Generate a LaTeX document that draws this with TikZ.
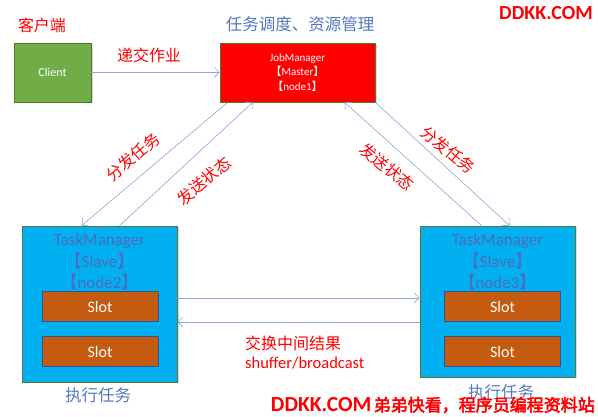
\documentclass[tikz,border=0pt]{standalone}
\usepackage{fontspec}
\setmainfont{Carlito}
\newfontfamily\cjk{Noto Sans CJK SC}
\newfontfamily\cjkbf{Noto Sans CJK SC}[FakeBold=3]
\usetikzlibrary{arrows.meta,shadows}
\usepackage{xcolor}
\definecolor{clientgreen}{HTML}{70AD47}
\definecolor{boxedge}{HTML}{4E7A32}
\definecolor{tmblue}{HTML}{00B0F0}
\definecolor{tmtext}{HTML}{4F6BBF}
\definecolor{titleblue}{HTML}{5577C0}
\definecolor{slotfill}{HTML}{C55A11}
\definecolor{slotedge}{HTML}{2F5597}
\definecolor{arrowblue}{HTML}{8AA6DA}
\newcommand{\lbr}{{\cjk 【}}
\newcommand{\rbr}{{\cjk 】}}

\begin{document}
\begin{tikzpicture}[x=1pt,y=1pt,
  mgr/.style={draw=boxedge, line width=0.8pt, inner sep=0pt,
    drop shadow={shadow xshift=1.5pt,shadow yshift=-1.5pt,opacity=0.3}},
  slot/.style={draw=slotedge, fill=slotfill, line width=1pt, inner sep=0pt,
    minimum width=116pt, minimum height=30pt, text=white, font=\fontsize{16}{18}\selectfont},
  redtxt/.style={text=red, inner sep=0pt, font=\cjk\fontsize{16}{18}\selectfont},
  bluetxt/.style={text=titleblue, inner sep=0pt, font=\cjk\fontsize{16.5}{18}\selectfont},
  tmtxt/.style={text=tmtext, inner sep=0pt, align=center, font=\fontsize{17}{21.5}\selectfont},
  arr/.style={draw=arrowblue, line width=0.6pt, -{Straight Barb[length=5pt,width=10pt]}}]
  \useasboundingbox (0,0) rectangle (598,417);

  % client and job manager
  \node[mgr, fill=clientgreen, minimum width=77pt, minimum height=59pt, text=white,
    font=\fontsize{12}{13}\selectfont] (client) at (52.5,344.5) {Client};
  \node[mgr, fill=red, minimum width=155pt, minimum height=59pt, text=white, align=center,
    font=\fontsize{11}{14.5}\selectfont] (jm) at (297.5,344.5) {JobManager\\\lbr Master\rbr\\\lbr node1\rbr};
  \node[redtxt] (clientlbl) at (42,392) {客户端};
  \node[bluetxt] (jmlbl) at (300,392.5) {任务调度、资源管理};
  \node[text=red, inner sep=0pt, font=\bfseries\fontsize{20}{22}\selectfont] (site) at (546,403.5) {DDKK.COM};

  % task managers
  \node[mgr, fill=tmblue, minimum width=155pt, minimum height=156pt] (tm2) at (99.5,113) {};
  \node[mgr, fill=tmblue, minimum width=155pt, minimum height=151pt] (tm3) at (497.5,115.5) {};
  \node[tmtxt, anchor=north] (tm2lbl) at ([yshift=-8pt]tm2.north) {TaskManager\\\lbr Slave\rbr\\\lbr node2\rbr};
  \node[tmtxt, anchor=north] (tm3lbl) at ([yshift=-8pt]tm3.north) {TaskManager\\\lbr Slave\rbr\\\lbr node3\rbr};
  \node[slot] (s21) at (100,110) {Slot};
  \node[slot] (s22) at (100,65) {Slot};
  \node[slot] (s31) at (502.5,110) {Slot};
  \node[slot] (s32) at (502.5,65) {Slot};
  \node[bluetxt] (tm2run) at (98,22) {执行任务};
  \node[bluetxt] (tm3run) at (501,25) {执行任务};

  % connectors
  \draw[arr] (client.east) -- (jm.west);
  \node[redtxt] (submit) at (149,362) {递交作业};
  \draw[arr] ([xshift=8pt]jm.south west) -- ([xshift=60pt]tm2.north west);
  \draw[arr] ([xshift=98pt]tm2.north west) -- ([xshift=33pt]jm.south west);
  \draw[arr] ([xshift=62pt]tm3.north west) -- ([xshift=125pt]jm.south west);
  \draw[arr] (jm.south east) -- ([xshift=90pt]tm3.north west);
  \node[redtxt, rotate=40] (dist2) at (133,260) {分发任务};
  \node[redtxt, rotate=40] (stat2) at (204,236) {发送状态};
  \node[redtxt, rotate=-40] (stat3) at (387,250) {发送状态};
  \node[redtxt, rotate=-40] (dist3) at (448,267) {分发任务};
  \draw[arr] ([yshift=6pt]tm2.east) -- ([yshift=6pt]tm2.east -| tm3.west);
  \draw[arr] ([yshift=-18pt]tm2.east -| tm3.west) -- ([yshift=-18pt]tm2.east);
  \node[redtxt, anchor=west] (swap) at (245,74) {交换中间结果};
  \node[text=red, inner sep=0pt, anchor=west, font=\fontsize{16.5}{18}\selectfont] (shuf) at (245,54) {shuffer/broadcast};

  % watermark
  \node[text=red, inner sep=0pt, anchor=east] (wm) at (595,12)
    {{\bfseries\fontsize{21.5}{23}\selectfont DDKK.COM} {\cjkbf\fontsize{17}{19}\selectfont 弟弟快看，程序员编程资料站}};
\end{tikzpicture}
\end{document}
